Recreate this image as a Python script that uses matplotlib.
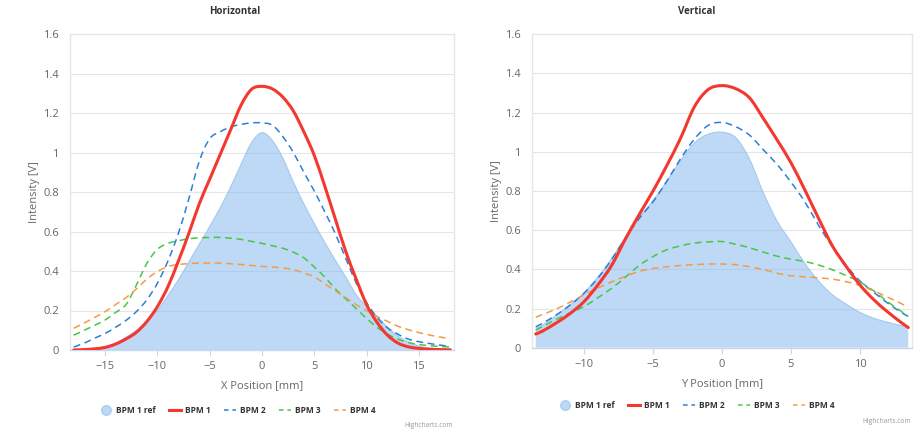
import matplotlib
matplotlib.use("Agg")
import matplotlib.pyplot as plt
from matplotlib.lines import Line2D
from matplotlib.path import Path
from matplotlib.patches import PathPatch

plt.rcParams['font.family'] = ['Open Sans', 'DejaVu Sans']

# Horizontal profile, positions in mm
x_pos = list(range(-18, 19))
h_ref = [0.0, 0.003, 0.008, 0.017, 0.035, 0.065, 0.1, 0.145, 0.2, 0.275, 0.355, 0.445, 0.535,
         0.625, 0.72, 0.825, 0.94, 1.05, 1.1, 1.06, 0.97, 0.85, 0.74, 0.64, 0.545, 0.455,
         0.37, 0.28, 0.22, 0.17, 0.115, 0.07, 0.04, 0.02, 0.01, 0.004, 0.0]
h_bpm1 = [0.0, 0.002, 0.006, 0.013, 0.03, 0.056, 0.09, 0.145, 0.22, 0.32, 0.45, 0.59, 0.74,
          0.865, 0.99, 1.115, 1.24, 1.32, 1.335, 1.322, 1.28, 1.21, 1.105, 0.985, 0.83, 0.665,
          0.5, 0.36, 0.23, 0.14, 0.075, 0.035, 0.016, 0.008, 0.004, 0.002, 0.001]
h_bpm2 = [0.015, 0.035, 0.06, 0.084, 0.115, 0.15, 0.195, 0.255, 0.338, 0.45, 0.59, 0.765, 0.955,
          1.07, 1.105, 1.13, 1.142, 1.15, 1.15, 1.138, 1.08, 1.0, 0.9, 0.805, 0.7, 0.59,
          0.465, 0.34, 0.24, 0.165, 0.112, 0.08, 0.055, 0.042, 0.033, 0.025, 0.018]
h_bpm3 = [0.075, 0.1, 0.125, 0.152, 0.19, 0.23, 0.33, 0.44, 0.51, 0.54, 0.553, 0.563, 0.568,
          0.57, 0.57, 0.566, 0.56, 0.55, 0.54, 0.528, 0.515, 0.495, 0.467, 0.42, 0.37, 0.31,
          0.26, 0.21, 0.16, 0.115, 0.08, 0.055, 0.038, 0.028, 0.022, 0.018, 0.015]
h_bpm4 = [0.11, 0.137, 0.165, 0.194, 0.23, 0.265, 0.31, 0.36, 0.397, 0.423, 0.433, 0.437, 0.44,
          0.44, 0.44, 0.437, 0.433, 0.428, 0.423, 0.42, 0.415, 0.407, 0.39, 0.37, 0.335, 0.3,
          0.265, 0.23, 0.2, 0.17, 0.145, 0.12, 0.103, 0.088, 0.076, 0.066, 0.057]

# Vertical profile
y_pos = [-13.5] + list(range(-13, 14)) + [13.5]
v_ref = [0.1, 0.115, 0.165, 0.22, 0.28, 0.36, 0.455, 0.565, 0.665, 0.75, 0.85, 0.955, 1.045,
         1.09, 1.1, 1.072, 0.962, 0.79, 0.645, 0.54, 0.43, 0.34, 0.27, 0.222, 0.18, 0.15,
         0.13, 0.113, 0.107]
v_bpm1 = [0.07, 0.085, 0.127, 0.175, 0.235, 0.32, 0.42, 0.555, 0.68, 0.8, 0.93, 1.07, 1.23,
          1.318, 1.338, 1.322, 1.275, 1.17, 1.06, 0.944, 0.806, 0.66, 0.52, 0.415, 0.32, 0.245,
          0.183, 0.128, 0.103]
v_bpm2 = [0.107, 0.125, 0.168, 0.218, 0.278, 0.355, 0.45, 0.56, 0.66, 0.745, 0.85, 0.965, 1.065,
          1.135, 1.15, 1.128, 1.085, 1.01, 0.935, 0.845, 0.745, 0.625, 0.515, 0.42, 0.34, 0.283,
          0.228, 0.18, 0.16]
v_bpm3 = [0.09, 0.108, 0.145, 0.178, 0.21, 0.255, 0.303, 0.36, 0.42, 0.465, 0.5, 0.52, 0.534,
          0.54, 0.542, 0.528, 0.51, 0.488, 0.467, 0.452, 0.44, 0.422, 0.398, 0.368, 0.335, 0.29,
          0.235, 0.185, 0.16]
v_bpm4 = [0.155, 0.17, 0.198, 0.233, 0.27, 0.305, 0.336, 0.364, 0.39, 0.405, 0.413, 0.42, 0.424,
          0.427, 0.427, 0.424, 0.413, 0.399, 0.38, 0.367, 0.362, 0.357, 0.35, 0.337, 0.318, 0.29,
          0.258, 0.225, 0.207]

names = ["BPM 1 ref", "BPM 1", "BPM 2", "BPM 3", "BPM 4"]
ref_col = "#7cb5ec"
line_cols = ["#f4372f", "#2b7fd6", "#45c745", "#f59a48"]
y_ticks = [0, 0.2, 0.4, 0.6, 0.8, 1.0, 1.2, 1.4, 1.6]
y_labels = ["0", "0.2", "0.4", "0.6", "0.8", "1", "1.2", "1.4", "1.6"]


def spline(xs, ys):
    # smooth curve through the points (like a highcharts spline series)
    pts = list(zip(xs, ys))
    n = len(pts)
    verts = [pts[0]]
    codes = [Path.MOVETO]
    for i in range(n - 1):
        p0 = pts[i - 1] if i > 0 else pts[i]
        p1 = pts[i]
        p2 = pts[i + 1]
        p3 = pts[i + 2] if i + 2 < n else pts[i + 1]
        c1 = (p1[0] + (p2[0] - p0[0]) / 6, p1[1] + (p2[1] - p0[1]) / 6)
        c2 = (p2[0] - (p3[0] - p1[0]) / 6, p2[1] - (p3[1] - p1[1]) / 6)
        verts += [c1, c2, p2]
        codes += [Path.CURVE4] * 3
    return verts, codes


fig = plt.figure(figsize=(9.23, 4.36), dpi=100)
ax1 = fig.add_axes([70 / 923, 1 - 350 / 436, 384 / 923, 316 / 436])
ax2 = fig.add_axes([532 / 923, 1 - 347.7 / 436, 380 / 923, 313.4 / 436])


def draw(ax, xs, ref, lines, xlim, xticks, xlabel):
    verts, codes = spline(xs, ref)
    area = Path(verts + [(xs[-1], 0), (xs[0], 0), (xs[0], 0)],
                codes + [Path.LINETO, Path.LINETO, Path.CLOSEPOLY])
    ax.add_patch(PathPatch(area, facecolor=ref_col, alpha=0.5, lw=0, zorder=2))
    ax.add_patch(PathPatch(Path(verts, codes), fill=False, edgecolor="#a3c9ef",
                           lw=0.8, zorder=2))
    verts, codes = spline(xs, lines[0])
    ax.add_patch(PathPatch(Path(verts, codes), fill=False, edgecolor=line_cols[0],
                           lw=2.2, zorder=5, capstyle="round"))
    for vals, c in zip(lines[1:], line_cols[1:]):
        verts, codes = spline(xs, vals)
        ax.add_patch(PathPatch(Path(verts, codes), fill=False, edgecolor=c, lw=1.1,
                               linestyle=(0, (4.5, 3)), zorder=4))
    ax.set_xlim(*xlim)
    ax.set_ylim(0, 1.6)
    ax.set_yticks(y_ticks)
    ax.set_yticklabels(y_labels)
    ax.set_xticks(xticks)
    ax.grid(axis="y", color="#e6e6e6", lw=0.8, zorder=0)
    ax.set_axisbelow(True)
    for s in ["left", "top", "right"]:
        ax.spines[s].set_color("#e6e6e6")
        ax.spines[s].set_linewidth(1.0)
    ax.spines["bottom"].set_color("#ccd6eb")
    ax.spines["bottom"].set_linewidth(1.0)
    ax.tick_params(axis="y", length=0, pad=8, labelsize=8, labelcolor="#666666")
    ax.tick_params(axis="x", length=4, color="#ccd6eb", pad=4, labelsize=8,
                   labelcolor="#666666")
    ax.set_xlabel(xlabel, fontsize=8, color="#666666", labelpad=6)
    ax.set_ylabel("Intensity [V]", fontsize=8, color="#666666", labelpad=2)


draw(ax1, x_pos, h_ref, [h_bpm1, h_bpm2, h_bpm3, h_bpm4], (-18.36, 18.36),
     [-15, -10, -5, 0, 5, 10, 15], "X Position [mm]")
draw(ax2, y_pos, v_ref, [v_bpm1, v_bpm2, v_bpm3, v_bpm4], (-13.77, 13.77),
     [-10, -5, 0, 5, 10], "Y Position [mm]")

fig.text(235 / 923, 1 - 12 / 436, "Horizontal", ha="center", va="center",
         fontsize=7, fontweight="bold", color="#333333")
fig.text(697 / 923, 1 - 12 / 436, "Vertical", ha="center", va="center",
         fontsize=7, fontweight="bold", color="#333333")

handles = [Line2D([], [], ls="none", marker="o", ms=7, mfc=ref_col, mec=ref_col, alpha=0.5),
           Line2D([], [], color=line_cols[0], lw=2.2)]
for c in line_cols[1:]:
    handles.append(Line2D([], [], color=c, lw=1.1, dashes=(3, 2.5)))

for cx, cy in [(238, 410), (697, 405)]:
    fig.legend(handles, names, loc="center", bbox_to_anchor=(cx / 923, 1 - cy / 436),
               ncol=5, frameon=False, handlelength=1.4, handletextpad=0.5,
               columnspacing=1.6, prop={"size": 6, "weight": "bold"},
               labelcolor="#333333")

fig.text(453 / 923, 1 - 425 / 436, "Highcharts.com", ha="right", va="center",
         fontsize=4.8, color="#999999")
fig.text(911 / 923, 1 - 421 / 436, "Highcharts.com", ha="right", va="center",
         fontsize=4.8, color="#999999")

fig.savefig("out.png", dpi=100)
